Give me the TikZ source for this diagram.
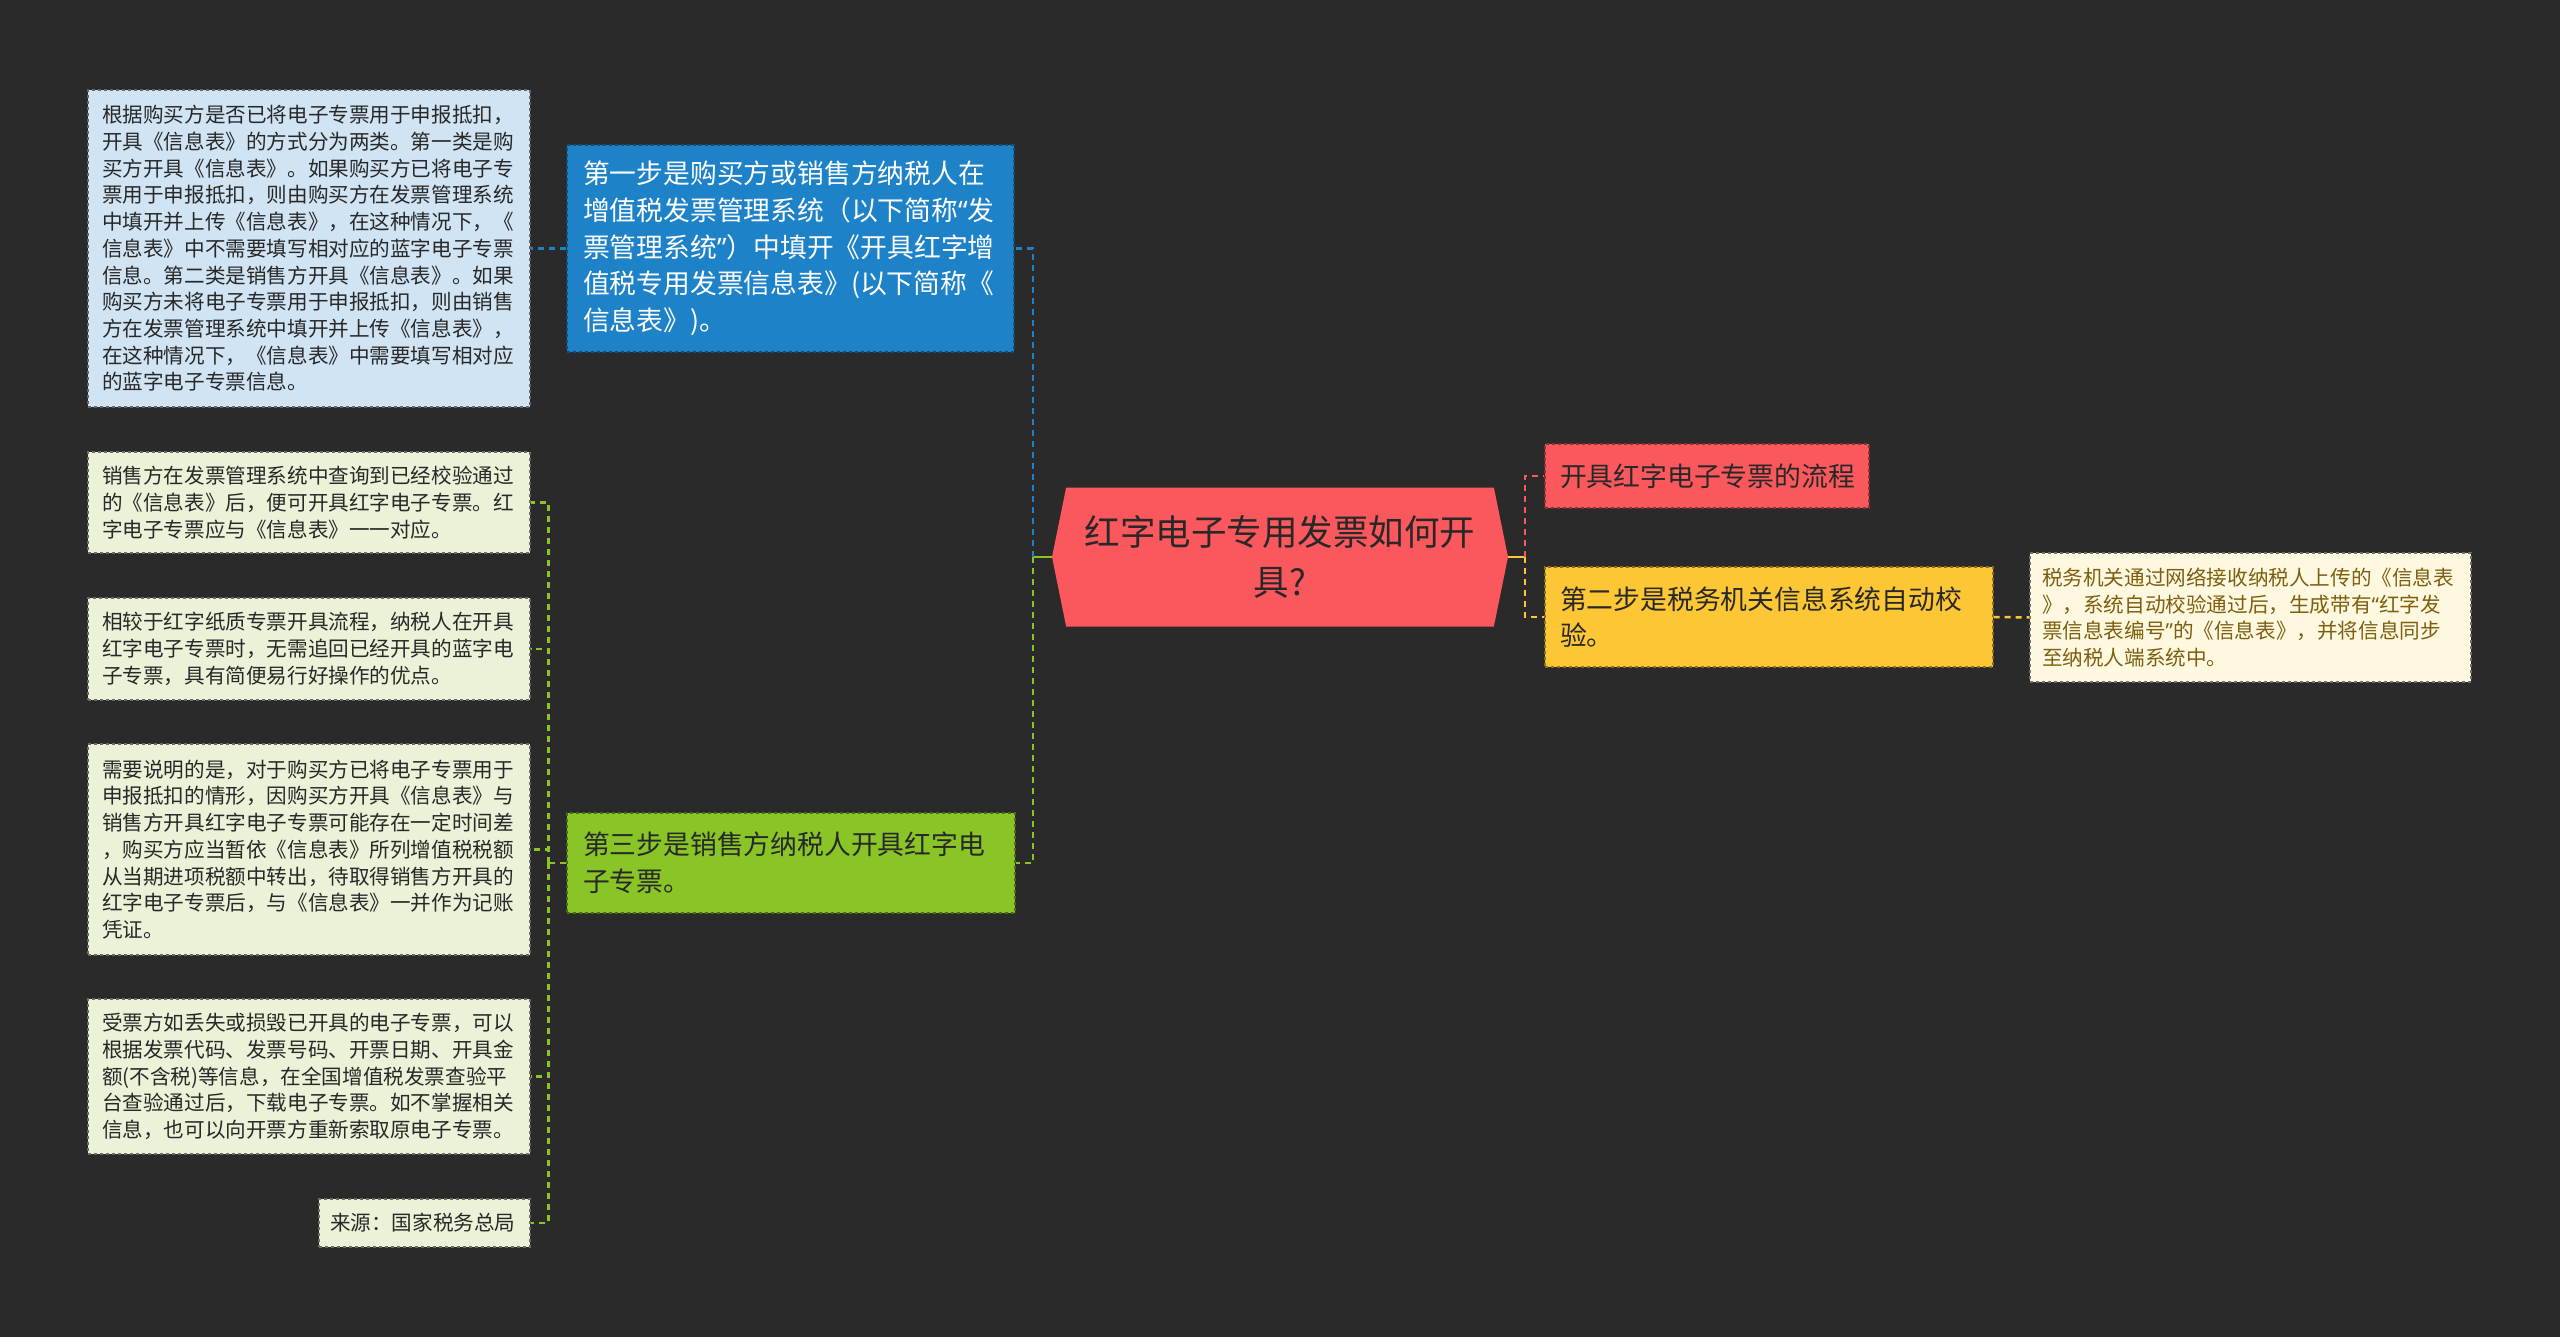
\documentclass[tikz,border=0pt]{standalone}
\usepackage{fontspec}
\newfontfamily\cjk{Noto Sans CJK SC}
\newfontfamily\quotefont{Noto Sans}
\newcommand\lquo{{\quotefont “}}
\newcommand\rquo{{\quotefont ”}}
\usetikzlibrary{shapes.symbols}

\definecolor{bgdark}{RGB}{42,42,42}
\definecolor{rootred}{RGB}{250,88,92}
\definecolor{stepblue}{RGB}{30,130,200}
\definecolor{stepyellow}{RGB}{252,198,52}
\definecolor{stepgreen}{RGB}{137,197,39}
\definecolor{paleblue}{RGB}{208,228,243}
\definecolor{palegreen}{RGB}{234,242,215}
\definecolor{palecream}{RGB}{254,248,224}
\definecolor{txtdark}{RGB}{40,40,40}
\definecolor{txtbrown}{RGB}{125,95,15}

\tikzset{
  box/.style={rectangle, inner ysep=0pt, align=left, line width=1.2pt, dashed},
  smalltxt/.style={font=\cjk\fontsize{20.6}{26.7}\selectfont},
  bigtxt/.style={font=\cjk\fontsize{26.8}{36.7}\selectfont},
  noteblue/.style={box, smalltxt, fill=paleblue, draw=paleblue!45!black, text=txtdark, inner xsep=14pt, text width=414pt},
  notegreen/.style={box, smalltxt, fill=palegreen, draw=palegreen!45!black, text=txtdark, inner xsep=14pt, text width=414pt},
  notecream/.style={box, smalltxt, fill=palecream, draw=palecream!45!black, text=txtbrown, inner xsep=12pt, text width=417pt},
  stepbox/.style={box, bigtxt, inner xsep=16pt, text width=415pt},
  link/.style={line width=2.5pt, dash pattern=on 6pt off 5pt},
}

\begin{document}
\begin{tikzpicture}[x=1pt, y=-1pt]
  \fill[bgdark] (0,0) rectangle (2560,1337);
  \useasboundingbox (0,0) rectangle (2560,1337);

  % centre
  \node[shape=signal, signal to=west and east, signal pointer angle=157,
        fill=rootred, text=txtdark, align=center, minimum width=456pt, minimum height=139pt,
        font=\cjk\fontsize{35.5}{50}\selectfont] (root) at (1280,557) {红字电子专用发票如何开\\具?};

  % right
  \node[box, bigtxt, fill=rootred, draw=rootred!55!black, text=txtdark, inner xsep=15pt,
        text width=294pt, minimum height=64pt] (flow) at (1707,476) {开具红字电子专票的流程};
  \node[stepbox, fill=stepyellow, draw=stepyellow!55!black, text=txtdark, inner xsep=15pt,
        text width=418pt, minimum height=100pt] (step2) at (1769,617) {第二步是税务机关信息系统自动校\\验。};
  \node[notecream, minimum height=129pt] (check) at (2250.5,617.5)
    {税务机关通过网络接收纳税人上传的《信息表\\》，系统自动校验通过后，生成带有\lquo 红字发\\票信息表编号\rquo 的《信息表》，并将信息同步\\至纳税人端系统中。};

  % left
  \node[stepbox, fill=stepblue, draw=stepblue!60!black, text=white, minimum height=207pt] (step1) at (790.5,248.5)
    {第一步是购买方或销售方纳税人在\\增值税发票管理系统（以下简称\lquo 发\\票管理系统\rquo ）中填开《开具红字增\\值税专用发票信息表》(以下简称《\\信息表》)。};
  \node[stepbox, fill=stepgreen, draw=stepgreen!55!black, text=txtdark, text width=416pt,
        minimum height=100pt] (step3) at (791,863) {第三步是销售方纳税人开具红字电\\子专票。};

  \node[noteblue, minimum height=317pt] (modes) at (309,248.5)
    {根据购买方是否已将电子专票用于申报抵扣，\\开具《信息表》的方式分为两类。第一类是购\\买方开具《信息表》。如果购买方已将电子专\\票用于申报抵扣，则由购买方在发票管理系统\\中填开并上传《信息表》，在这种情况下，《\\信息表》中不需要填写相对应的蓝字电子专票\\信息。第二类是销售方开具《信息表》。如果\\购买方未将电子专票用于申报抵扣，则由销售\\方在发票管理系统中填开并上传《信息表》，\\在这种情况下，《信息表》中需要填写相对应\\的蓝字电子专票信息。};
  \node[notegreen, minimum height=101pt] (query) at (309,502.5)
    {销售方在发票管理系统中查询到已经校验通过\\的《信息表》后，便可开具红字电子专票。红\\字电子专票应与《信息表》一一对应。};
  \node[notegreen, minimum height=102pt] (merit) at (309,649)
    {相较于红字纸质专票开具流程，纳税人在开具\\红字电子专票时，无需追回已经开具的蓝字电\\子专票，具有简便易行好操作的优点。};
  \node[notegreen, minimum height=211pt] (timing) at (309,849.5)
    {需要说明的是，对于购买方已将电子专票用于\\申报抵扣的情形，因购买方开具《信息表》与\\销售方开具红字电子专票可能存在一定时间差\\，购买方应当暂依《信息表》所列增值税税额\\从当期进项税额中转出，待取得销售方开具的\\红字电子专票后，与《信息表》一并作为记账\\凭证。};
  \node[notegreen, minimum height=155pt] (lost) at (309,1076.5)
    {受票方如丢失或损毁已开具的电子专票，可以\\根据发票代码、发票号码、开票日期、开具金\\额(不含税)等信息，在全国增值税发票查验平\\台查验通过后，下载电子专票。如不掌握相关\\信息，也可以向开票方重新索取原电子专票。};
  \node[notegreen, inner xsep=11pt, text width=189pt, minimum height=48pt] (source) at (424.5,1223) {来源：国家税务总局};

  % connectors
  \coordinate (jl) at ([xshift=-19pt]root.west);
  \coordinate (jr) at ([xshift=17pt]root.east);
  \coordinate (jg) at ([xshift=-18pt]step3.west);
  \draw[line width=2.5pt, stepgreen] (root.west) -- (jl);
  \draw[link, stepblue] (jl) |- (step1.east);
  \draw[link, stepgreen] (jl) |- (step3.east);
  \draw[link, stepblue] (step1.west) -- (modes.east);
  \foreach \n in {query, merit, timing, lost, source}
    \draw[link, stepgreen] (jg) |- (\n.east);
  \draw[link, stepgreen] (step3.west) -- (jg);
  \draw[line width=2.5pt, stepyellow] (root.east) -- (jr);
  \draw[link, rootred] (jr) |- (flow.west);
  \draw[link, stepyellow] (jr) |- (step2.west);
  \draw[link, stepyellow] (step2.east) -- (check.west);
\end{tikzpicture}
\end{document}
